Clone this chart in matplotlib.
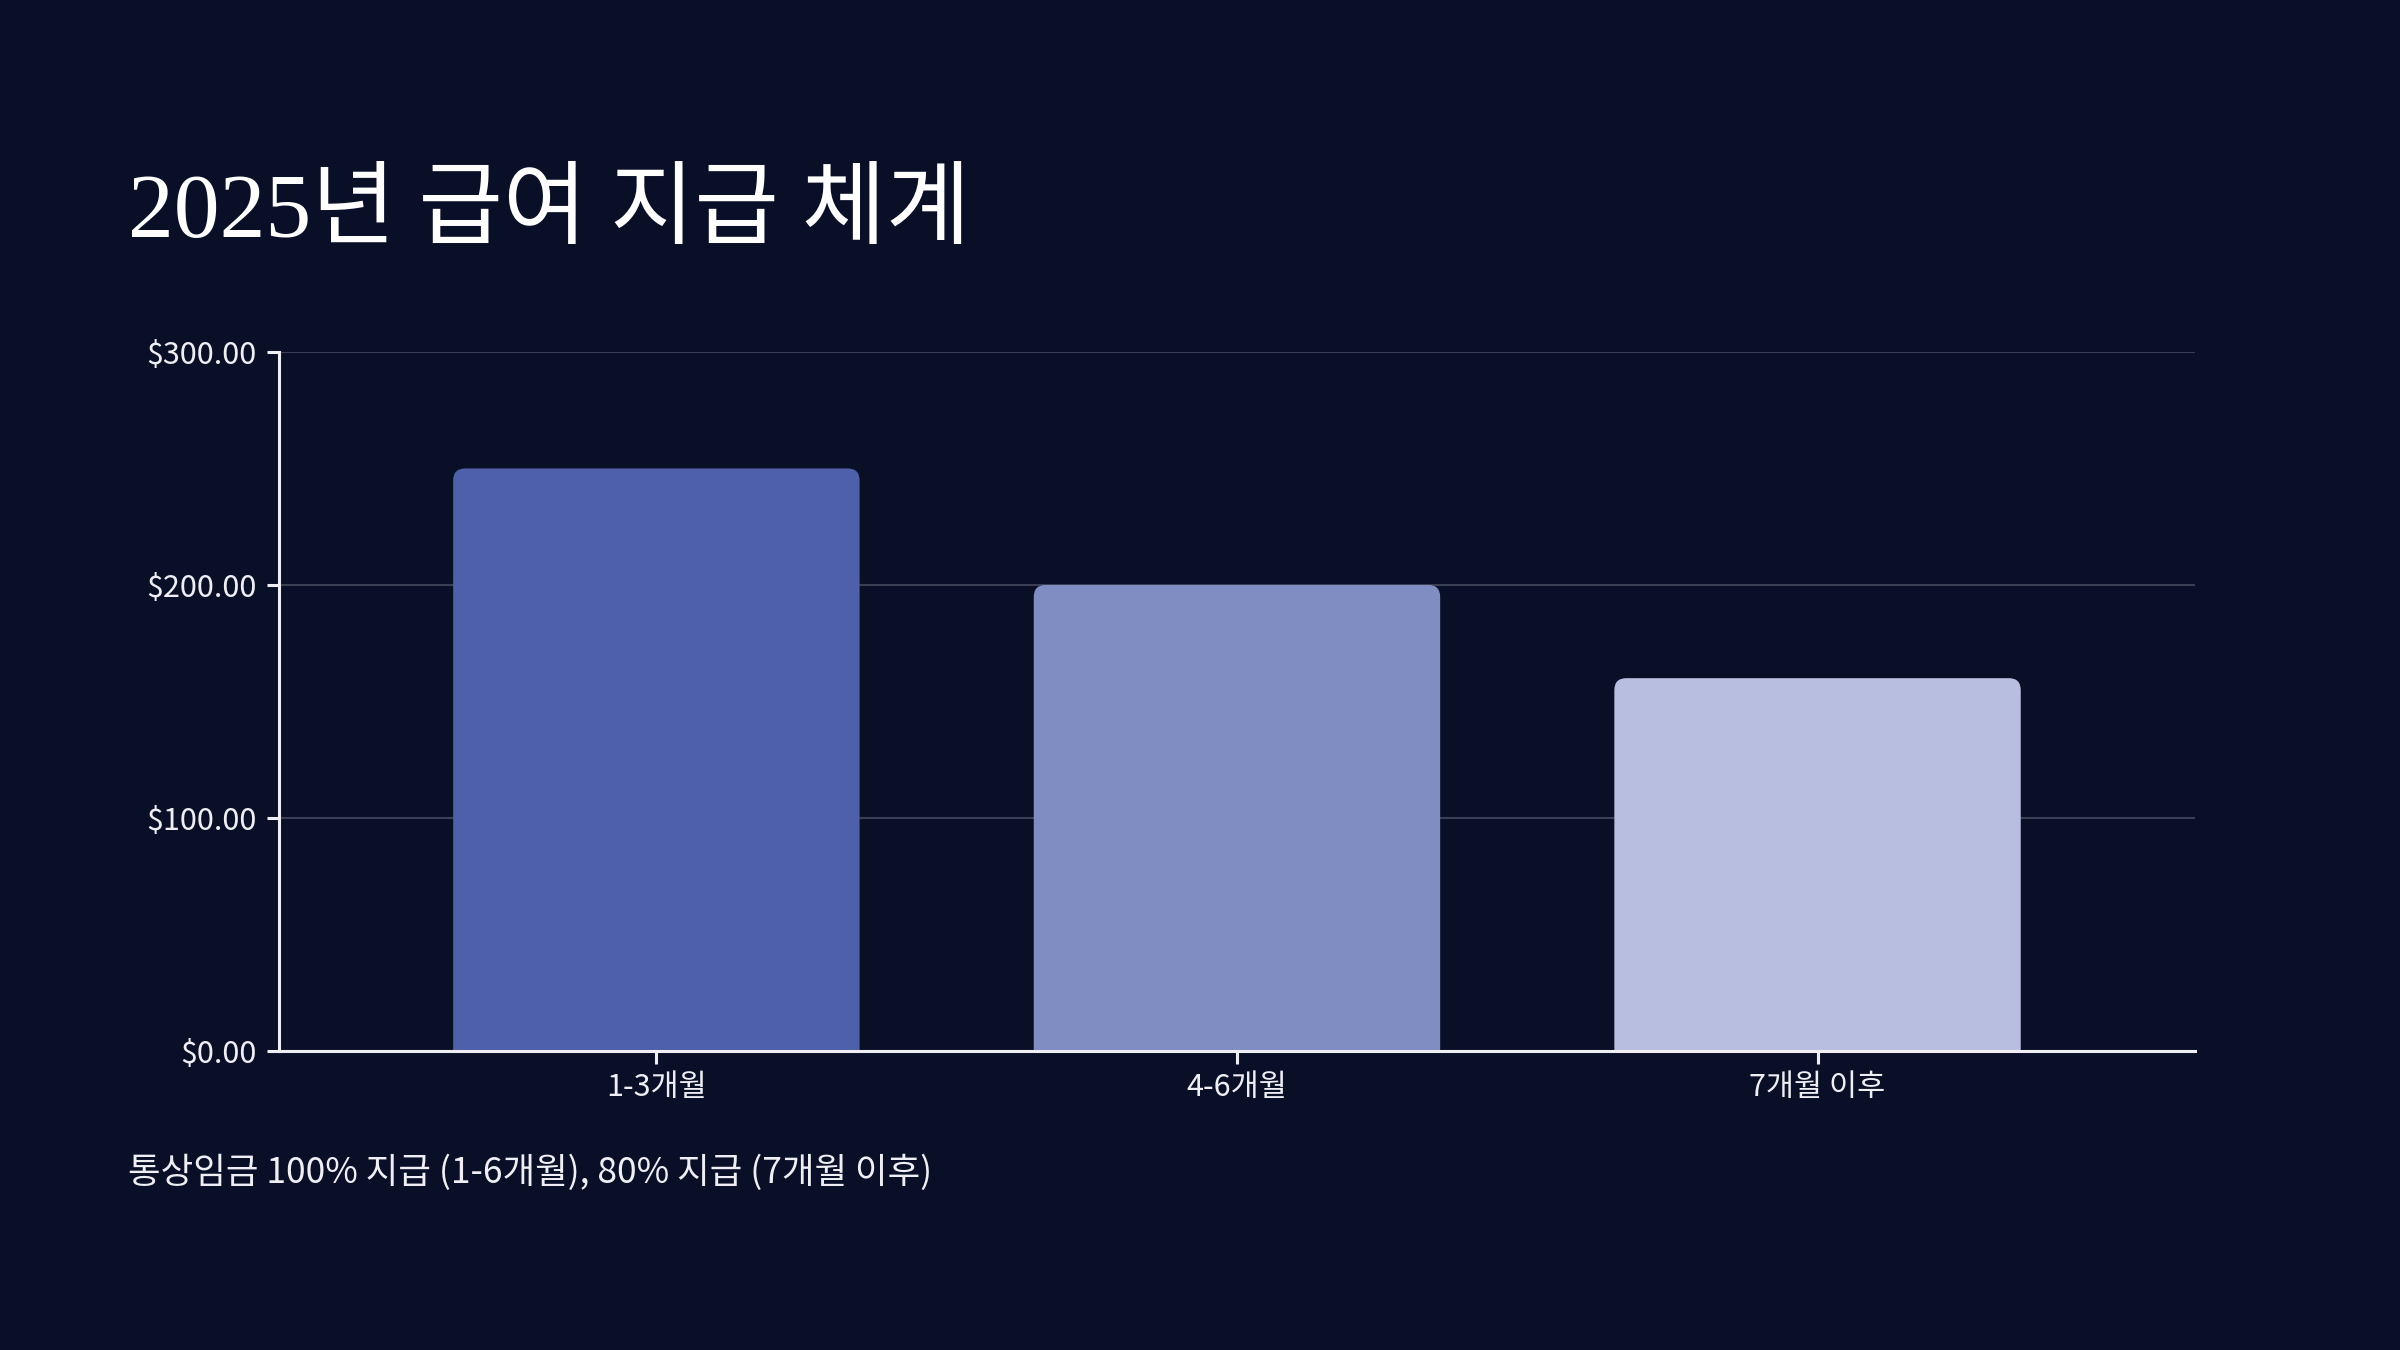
import matplotlib
matplotlib.use('Agg')
import matplotlib.pyplot as plt
from matplotlib.patches import FancyBboxPatch
from matplotlib.ticker import FuncFormatter

# data
categories = ['1-3개월', '4-6개월', '7개월 이후']
values = [250, 200, 160]
bar_colors = ['#4e60aa', '#808dc3', '#b7bedf']
yticks = [0, 100, 200, 300]
title = '2025년 급여 지급 체계'
note = '통상임금 100% 지급 (1-6개월), 80% 지급 (7개월 이후)'

bg = '#0a0f28'
fg = '#eeeef4'
plt.rcParams['font.family'] = ['Noto Sans CJK KR', 'DejaVu Sans']

fig = plt.figure(figsize=(24, 13.5), dpi=100, facecolor=bg)
ax = fig.add_axes([0.11625, 0.2215, 0.7983, 0.5178], facecolor=bg)

x = list(range(len(categories)))
bars = ax.bar(x, values, width=0.7, color=bar_colors, zorder=3)
ax.set_xlim(-0.65, len(categories) - 0.35)
ax.set_ylim(0, 300)

# rounded top corners: hide the plain bar, draw a rounded box that starts
# below zero so the axes clip squares off the bottom
fw, fh = fig.get_size_inches() * fig.dpi
pos = ax.get_position()
px_x = pos.width * fw / (ax.get_xlim()[1] - ax.get_xlim()[0])
px_y = pos.height * fh / (ax.get_ylim()[1] - ax.get_ylim()[0])
rad = 12
rx, ry = rad / px_x, rad / px_y
for b in bars:
    b.set_visible(False)
    x0, w, h = b.get_x(), b.get_width(), b.get_height()
    ax.add_patch(FancyBboxPatch((x0, -3 * ry), w, h + 3 * ry,
                                boxstyle=f'round,pad=0,rounding_size={rx}',
                                mutation_aspect=ry / rx,
                                fc=b.get_facecolor(), ec='none', zorder=3))

ax.set_xticks(x)
ax.set_xticklabels(categories)
ax.set_yticks(yticks)
ax.yaxis.set_major_formatter(FuncFormatter(lambda v, p: '${:,.2f}'.format(v)))

ax.yaxis.grid(True, color='#3a3f54', lw=1.5)
ax.set_axisbelow(True)

for s in ['top', 'right']:
    ax.spines[s].set_visible(False)
for s in ['left', 'bottom']:
    ax.spines[s].set_color(fg)
    ax.spines[s].set_linewidth(2.2)
    ax.spines[s].set_zorder(4)

ax.tick_params(axis='y', length=9, width=2.2, color=fg, pad=7,
               labelsize=22, labelcolor=fg)
ax.tick_params(axis='x', length=9, width=2.2, color=fg, pad=6,
               labelsize=22, labelcolor=fg)

fig.text(128 / 2400, 1 - 237 / 1350, title, color='white', fontsize=66,
         va='baseline', family=['Liberation Serif', 'Noto Sans CJK KR'])
fig.text(128 / 2400, 1 - 1183 / 1350, note, color=fg, fontsize=25.5,
         va='baseline')

fig.savefig('out.png', dpi=100, facecolor=bg)
